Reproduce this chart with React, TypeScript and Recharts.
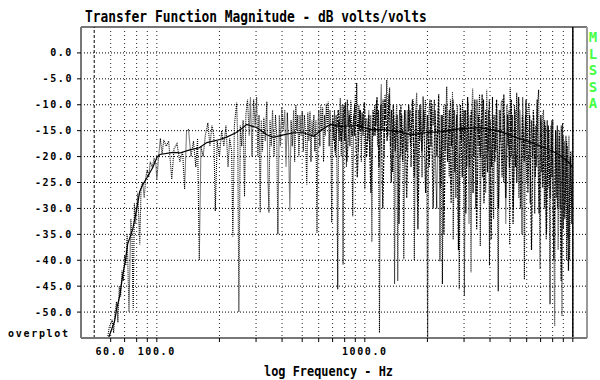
import { LineChart, Line, XAxis, YAxis, CartesianGrid, ReferenceLine } from 'recharts'

const RAW_BASS: [number, number][] = [
  [58, -55], [59, -53], [61, -51.5], [62, -54], [63, -50], [64, -48], [65, -52], [66, -45], [67, -47], [68, -42],
  [69, -44], [70, -39], [71, -41], [72, -35], [73.5, -50], [75, -32], [76, -36], [77, -49.5], [78, -29], [79, -33],
  [81, -27], [82.8, -37], [84, -26], [85.5, -25], [87, -28], [88.5, -24], [90, -22.5], [91.5, -24], [93, -21], [95, -22],
  [97, -20.5], [99, -21.5], [100, -24.5], [102, -20], [104, -16.5], [106, -19.5], [108, -16.8], [111, -18], [114, -17],
  [118, -24.4], [121, -18.5], [125, -17.5], [129, -21], [133, -19], [136, -26.3], [139, -15], [142, -14.8], [146, -20],
  [150, -17], [154, -22], [157, -16.5], [160, -40], [163, -18], [167, -20], [171, -16], [176, -13.5], [180, -18],
  [184, -14], [188, -16], [191, -30.5], [195, -17], [200, -20], [205, -15], [210, -18], [215, -14], [220, -22],
  [224, -16.5], [229, -19], [232, -35.4], [236, -14], [242, -9.6], [245, -17], [248, -50], [252, -14], [256, -18],
  [260, -13], [264, -27.7], [268, -12], [273, -9], [278, -16], [282, -8.5], [287, -20], [292, -9], [297, -14],
]

const RAW_MID: [number, number][] = [
  [302, -8.5], [306, -20], [310, -12], [314, -30.8], [318, -13], [322, -19], [327, -12.5], [332, -17], [338, -9.4],
  [342, -24], [346, -30.8], [350, -13], [355, -18], [360, -11], [366, -20], [372, -12], [377, -16], [382, -35],
  [388, -12], [393, -18], [399, -10.5], [405, -15], [412, -11], [418, -22], [424, -11.5], [430, -18], [436, -30.5],
  [442, -13], [448, -18], [455, -11], [460, -21], [466, -10], [471, -15], [476, -12], [482, -20], [488, -12], [494, -16],
  [500, -11.3], [506, -19], [512, -12], [518, -15], [526, -25.4], [532, -11.5], [538, -17], [545, -11.3], [551, -21],
  [557, -13], [563, -16], [569, -12], [575, -19], [582, -13], [589, -34.7], [595, -14], [601, -11], [608, -18],
  [614, -10], [620, -15], [627, -10.5], [633, -21], [640, -12], [646, -16], [653, -9.8], [660, -14], [667, -9.4],
  [674, -18], [680, -11], [686, -14], [693, -32.7], [700, -13], [708, -17], [715, -11], [722, -20], [728, -12],
  [735, -24], [741, -45.6], [748, -13], [755, -17], [762, -8.7], [770, -20], [778, -10], [786, -40.8], [793, -12],
  [800, -17], [808, -9.5], [816, -22], [824, -9], [832, -14], [840, -11], [848, -18], [856, -9.2], [864, -13],
  [875, -31.5], [884, -12], [892, -16], [900, -8], [908, -14], [914, -5.8], [920, -12], [928, -19], [936, -10],
  [945, -15], [953, -11], [962, -21], [970, -11.5], [980, -16], [990, -12], [1000, -26.3], [1010, -13], [1022, -12.8],
  [1034, -17], [1045, -11], [1056, -20], [1068, -12], [1081, -36.5], [1092, -13], [1104, -16], [1116, -10], [1128, -14],
  [1140, -9], [1152, -18], [1164, -11], [1176, -54], [1188, -12], [1200, -6], [1212, -15], [1225, -9], [1237, -20],
  [1250, -8], [1262, -13], [1275, -5.2], [1290, -16], [1303, -9], [1316, -6.7], [1330, -18], [1345, -11], [1360, -23],
  [1375, -12], [1390, -44.6], [1405, -14], [1424, -10], [1440, -44], [1456, -15], [1472, -11], [1488, -20], [1505, -12],
  [1522, -17], [1540, -39.8], [1557, -13], [1574, -11], [1590, -19], [1608, -11], [1626, -15], [1650, -11], [1668, -22],
  [1688, -13], [1708, -9], [1730, -40], [1752, -12], [1776, -7.7], [1796, -28.5], [1818, -11], [1840, -17], [1862, -10],
  [1884, -24], [1906, -8.4], [1930, -15], [1955, -9], [1984, -20], [2005, -55], [2030, -12], [2055, -9], [2080, -18],
  [2105, -10], [2130, -14], [2160, -9], [2190, -22],
]

const RAW_TREBLE: [number, number][] = [
  [2217, -30], [2250, -11], [2280, -16], [2297, -40.2], [2330, -12], [2360, -44.6], [2395, -10], [2430, -19],
  [2476, -6.5], [2510, -15], [2545, -24], [2580, -9], [2610, -18], [2640, -7.5], [2660, -36], [2700, -11], [2740, -28],
  [2780, -10], [2815, -20], [2845, -45.6], [2880, -12], [2920, -17], [2950, -9], [2985, -25], [3010, -46.9], [3050, -11],
  [3090, -22], [3130, -9.5], [3170, -33], [3210, -12], [3240, -42.3], [3280, -10], [3300, -6.8], [3340, -20], [3380, -11],
  [3420, -30], [3460, -9], [3500, -18], [3530, -12], [3560, -8], [3590, -37.3], [3630, -13], [3680, -24], [3720, -9],
  [3760, -16], [3810, -27], [3855, -7.1], [3900, -19], [3940, -11], [3975, -41], [4010, -13], [4060, -22], [4110, -8.5],
  [4160, -32], [4210, -12], [4260, -19], [4300, -10], [4340, -28], [4380, -46], [4430, -11], [4480, -17], [4530, -9.5],
  [4600, -9], [4650, -25], [4700, -12], [4760, -33], [4820, -10], [4880, -18], [4930, -11], [4970, -37], [5000, -6.7],
  [5060, -20], [5120, -12], [5180, -30], [5240, -10], [5300, -22], [5373, -7.7], [5440, -16], [5500, -28], [5570, -11],
  [5640, -19], [5700, -35], [5740, -8.5], [5800, -17], [5850, -43.7], [5920, -12], [6000, -25], [6080, -11], [6170, -9.6],
  [6240, -29], [6320, -13], [6400, -20], [6480, -12], [6560, -31], [6640, -14], [6700, -22], [6760, -10], [6850, -7.1],
  [6900, -27], [6960, -41.7], [7030, -13], [7100, -23], [7170, -12], [7230, -11], [7300, -30], [7380, -14], [7450, -36],
  [7530, -13], [7600, -26], [7680, -15], [7770, -48.5], [7850, -14], [7930, -24], [8020, -12.9], [8100, -33],
  [8180, -52.7], [8260, -15], [8340, -28], [8420, -14], [8500, -38], [8600, -16], [8700, -30], [8800, -14],
  [8870, -50.8], [8930, -13.5], [9000, -34], [9100, -17], [9200, -29], [9270, -16], [9340, -40], [9420, -18],
  [9500, -36], [9580, -16], [9650, -40], [9750, -19], [9850, -33], [9910, -19],
]

// second (overplotted) measurement, upper band only
const RAW_OVER: [number, number][] = [
  [700, -12], [720, -19], [745, -11], [770, -17], [795, -10], [820, -21], [845, -12], [870, -16], [895, -10], [920, -24],
  [945, -11], [970, -15], [995, -9.5], [1020, -20], [1045, -12], [1070, -27], [1095, -11], [1120, -16], [1145, -8.5],
  [1170, -22], [1195, -10], [1220, -30], [1250, -9], [1280, -17], [1310, -8], [1340, -25], [1370, -10], [1400, -19],
  [1430, -12], [1460, -33], [1490, -10], [1520, -21], [1555, -11], [1590, -28], [1625, -10], [1660, -18], [1695, -9],
  [1730, -24], [1765, -11], [1800, -34], [1840, -10], [1880, -19], [1920, -11], [1960, -27], [2000, -12], [2040, -22],
  [2085, -9], [2130, -30], [2175, -11], [2220, -20], [2265, -8], [2310, -26], [2355, -12], [2400, -35], [2450, -10],
  [2500, -21], [2550, -11], [2600, -29], [2655, -9], [2710, -23], [2765, -12], [2820, -38], [2880, -10], [2940, -24],
  [3000, -11], [3060, -31], [3120, -8.5], [3185, -22], [3250, -11], [3315, -27], [3380, -9], [3450, -34], [3520, -12],
  [3590, -20], [3665, -8], [3740, -29], [3815, -11], [3890, -23], [3970, -9], [4050, -36], [4130, -12], [4215, -21],
  [4300, -9], [4390, -30], [4480, -11], [4570, -24], [4660, -8], [4760, -28], [4860, -12], [4960, -22], [5060, -9],
  [5160, -33], [5270, -11], [5380, -25], [5490, -8.5], [5600, -30], [5720, -12], [5840, -21], [5960, -9], [6080, -27],
  [6200, -12], [6330, -38], [6460, -11], [6600, -24], [6740, -9], [6880, -31], [7020, -12], [7170, -26], [7320, -13],
  [7470, -35], [7620, -14], [7780, -28], [7940, -13], [8100, -40], [8270, -15], [8440, -30], [8610, -15], [8790, -44],
  [8970, -16], [9150, -32], [9340, -17], [9530, -42], [9720, -20], [9900, -30],
]

// smoothed curve
const SMOOTH: [number, number][] = [
  [58.6, -55], [62.7, -51.7], [64.1, -49.4], [66.3, -46.9], [68.5, -43], [70.8, -39.8], [72.4, -36.9], [76.6, -34],
  [80, -30.2], [82.8, -26.7], [85.6, -25.4], [90.5, -23.8], [95.6, -22.1], [100, -20.2], [103.4, -19.6], [119.5, -19.2],
  [129, -19.3], [144, -18.7], [160, -18.3], [174, -17.3], [201, -16.7], [218, -16.2], [240, -15.4], [258, -14.5],
  [270, -13.8], [302, -14.4], [338, -15.8], [363, -16.3], [406, -15.8], [454, -15.4], [507, -15.4], [567, -16.1],
  [634, -14.6], [685, -13.8], [765, -14.2], [925, -14], [1070, -14.8], [1240, -14.8], [1440, -15.2], [1670, -15.8],
  [1930, -15.4], [2330, -15.2], [2900, -14.6], [3600, -14.4], [4500, -15.2], [5500, -16.5], [6500, -17.5],
  [7500, -18.5], [8500, -19.5], [9500, -21], [9950, -22],
]

const X_TICKS = [60, 70, 80, 90, 100, 200, 300, 400, 500, 600, 700, 800, 900, 1000, 2000, 3000, 4000, 5000, 6000, 7000, 8000, 9000, 10000]
const X_LABELED = [60, 100, 1000]
const Y_TICKS = [0, -5, -10, -15, -20, -25, -30, -35, -40, -45, -50]

const toPts = (arr: [number, number][]) => arr.map(([f, db]) => ({ f, db }))
const raw = toPts([...RAW_BASS, ...RAW_MID, ...RAW_TREBLE])
const over = toPts(RAW_OVER)
const smooth = toPts(SMOOTH)

const mono = 'DejaVu Sans Mono, monospace'
const tickStyle = { fill: '#000', fontSize: 10, fontFamily: mono, fontWeight: 700, letterSpacing: 1.6 }

export default function App() {
  return (
    <div style={{ position: 'absolute', left: 0, top: 0, width: 600, height: 380, background: '#fff' }}>
      <LineChart width={600} height={380} data={raw} margin={{ top: 27, right: 13, bottom: 12, left: 21 }}>
        <CartesianGrid vertical={false} stroke="#000" strokeDasharray="1 2" />
        <CartesianGrid horizontal={false} stroke="#222" strokeDasharray="1 3" />
        <XAxis type="number" dataKey="f" scale="log" domain={[43.2, 11700]} allowDataOverflow
          ticks={X_TICKS} interval={0} height={30} tickSize={4} tickMargin={6}
          tickFormatter={(v: number) => (X_LABELED.includes(v) ? v.toFixed(1) : '')}
          axisLine={{ stroke: '#777', strokeWidth: 2 }} tickLine={{ stroke: '#000' }} tick={tickStyle} />
        <YAxis type="number" dataKey="db" domain={[-55, 5]} allowDataOverflow ticks={Y_TICKS} width={60}
          tickSize={4} tickMargin={4} tickFormatter={(v: number) => v.toFixed(1)}
          axisLine={{ stroke: '#777', strokeWidth: 2 }} tickLine={{ stroke: '#000' }} tick={tickStyle} />
        <ReferenceLine y={5} stroke="#777" strokeWidth={2} ifOverflow="visible" />
        <ReferenceLine x={11700} stroke="#999" strokeWidth={2} ifOverflow="visible" />
        <ReferenceLine x={50} stroke="#000" strokeDasharray="3 2" />
        <ReferenceLine x={10000} stroke="#000" strokeWidth={1.5} />
        <Line data={over} dataKey="db" type="linear" stroke="#000" strokeWidth={1.2} strokeDasharray="2 1"
          dot={false} isAnimationActive={false} />
        <Line data={raw} dataKey="db" type="linear" stroke="#000" strokeWidth={1.1} strokeDasharray="1 1"
          dot={false} isAnimationActive={false} />
        <Line data={smooth} dataKey="db" type="linear" stroke="#000" strokeWidth={1.2}
          dot={false} isAnimationActive={false} />
      </LineChart>

      <div style={{ position: 'absolute', left: 85, top: 10, fontFamily: mono, fontWeight: 700, fontSize: 15, lineHeight: '15px', whiteSpace: 'nowrap', transform: 'scaleX(0.86)', transformOrigin: 'left top' }}>
        Transfer Function Magnitude - dB volts/volts
      </div>
      <div style={{ position: 'absolute', left: 8, top: 328, fontFamily: mono, fontWeight: 700, fontSize: 10, letterSpacing: 1.7, lineHeight: '12px' }}>
        overplot
      </div>
      <div style={{ position: 'absolute', left: 264, top: 364, fontFamily: mono, fontWeight: 700, fontSize: 14, lineHeight: '14px', whiteSpace: 'nowrap', transform: 'scaleX(0.85)', transformOrigin: 'left top' }}>
        log Frequency - Hz
      </div>
      <div style={{ position: 'absolute', left: 587, top: 29, width: 12, textAlign: 'center', fontFamily: mono, fontWeight: 700, fontSize: 14, lineHeight: '16.6px', color: '#44ff44' }}>
        {['M', 'L', 'S', 'S', 'A'].map((c, i) => <div key={i}>{c}</div>)}
      </div>
    </div>
  )
}
